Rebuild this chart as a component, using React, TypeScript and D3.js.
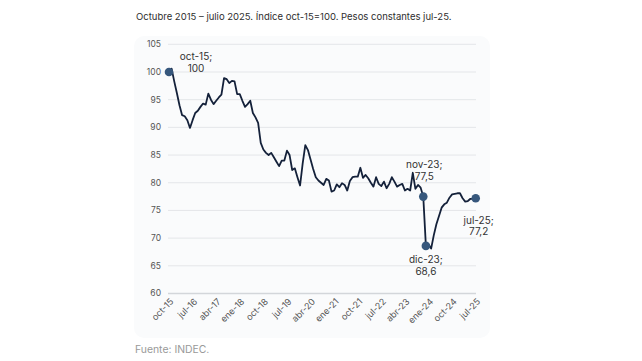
import React from "react";
import * as d3 from "d3";

const TITLE = "Octubre 2015 – julio 2025. Índice oct-15=100. Pesos constantes jul-25.";
const SOURCE = "Fuente: INDEC.";

// monthly index, oct-15 (0) .. jul-25 (117)
const values: number[] = [
  100.0, 100.6, 98.3, 96.2, 94.0, 92.2, 92.0, 91.3, 89.9, 91.3,
  92.6, 93.0, 93.7, 94.3, 94.1, 96.1, 95.0, 94.2, 94.8, 95.4,
  95.9, 98.9, 98.7, 98.0, 98.4, 98.3, 96.0, 96.0, 94.8, 93.7,
  94.2, 94.8, 92.6, 91.8, 90.8, 87.2, 86.0, 85.4, 85.0, 85.4,
  84.6, 83.8, 83.0, 84.0, 84.0, 85.8, 85.0, 82.3, 82.6, 81.0,
  79.5, 83.5, 86.8, 85.9, 84.2, 82.5, 81.0, 80.4, 80.0, 79.6,
  80.7, 80.4, 78.4, 78.6, 79.7, 79.2, 79.9, 79.6, 78.6, 80.3,
  81.0, 81.1, 81.1, 82.7, 80.9, 81.4, 80.8, 80.0, 79.3, 81.0,
  79.8, 79.4, 80.2, 79.0, 79.8, 81.0, 80.2, 79.3, 79.6, 79.8,
  78.6, 78.9, 78.6, 81.8, 78.9, 79.6, 79.1, 77.5, 68.6, 68.9,
  68.1, 70.5, 72.5, 74.0, 75.5, 76.1, 76.4, 77.3, 77.9, 78.0,
  78.1, 78.1, 77.2, 76.6, 76.7, 77.1, 77.1, 77.2,
];

const tickLabels: string[] = [
  "oct-15", "jul-16", "abr-17", "ene-18", "oct-18", "jul-19", "abr-20",
  "ene-21", "oct-21", "jul-22", "abr-23", "ene-24", "oct-24", "jul-25",
];
const tickStep = 9;
const yTicks: number[] = [60, 65, 70, 75, 80, 85, 90, 95, 100, 105];

const highlights = [
  { i: 0, l1: "oct-15;", l2: "100", dx: 27, dy: -15 },
  { i: 97, l1: "nov-23;", l2: "77,5", dx: 1, dy: -32 },
  { i: 98, l1: "dic-23;", l2: "68,6", dx: 0, dy: 14 },
  { i: 117, l1: "jul-25;", l2: "77,2", dx: 3, dy: 22 },
];

const W = 642;
const H = 361;

export default function App() {
  const x = d3.scaleLinear().domain([0, values.length - 1]).range([169, 475.7]);
  const y = d3.scaleLinear().domain([60, 105]).range([293.5, 44.3]);
  const line = d3
    .line<number>()
    .x((_, i) => x(i))
    .y((d) => y(d));
  const font = "Inter, 'Open Sans', sans-serif";

  return (
    <svg
      width={W}
      height={H}
      style={{ position: "absolute", left: 0, top: 0, background: "#fff" }}
      fontFamily={font}
    >
      <rect x={0} y={0} width={W} height={H} fill="#ffffff" />
      <text x={136} y={20} fontSize={9.5} fill="#2e2e2e">
        {TITLE}
      </text>
      <rect x={134} y={36} width={356} height={302} rx={10} fill="#fafbfc" />
      {yTicks.map((t) => (
        <g key={t}>
          <line
            x1={168}
            x2={476}
            y1={y(t)}
            y2={y(t)}
            stroke={t === 60 ? "#d3d6da" : "#e4e6e9"}
            strokeWidth={t === 60 ? 1.5 : 1}
          />
          <text x={161} y={y(t)} dy="0.35em" textAnchor="end" fontSize={8.5} fill="#555">
            {t}
          </text>
        </g>
      ))}
      {tickLabels.map((lab, k) => {
        const px = x(k * tickStep) + 3;
        const py = 300;
        return (
          <text
            key={lab}
            transform={`translate(${px},${py}) rotate(-45)`}
            textAnchor="end"
            dy="0.35em"
            fontSize={9}
            fill="#555"
          >
            {lab}
          </text>
        );
      })}
      <path d={line(values) || ""} fill="none" stroke="#14213a" strokeWidth={1.8} strokeLinejoin="round" />
      {highlights.map((h) => (
        <g key={h.i}>
          <circle cx={x(h.i)} cy={y(values[h.i])} r={4.3} fill="#36577c" />
          <text
            x={x(h.i) + h.dx}
            y={y(values[h.i]) + h.dy}
            textAnchor="middle"
            fontSize={10}
            fill="#333"
          >
            <tspan x={x(h.i) + h.dx} dy="0.35em">{h.l1}</tspan>
            <tspan x={x(h.i) + h.dx} dy="1.15em">{h.l2}</tspan>
          </text>
        </g>
      ))}
      <text x={135} y={353} fontSize={10.4} fill="#999">
        {SOURCE}
      </text>
    </svg>
  );
}
